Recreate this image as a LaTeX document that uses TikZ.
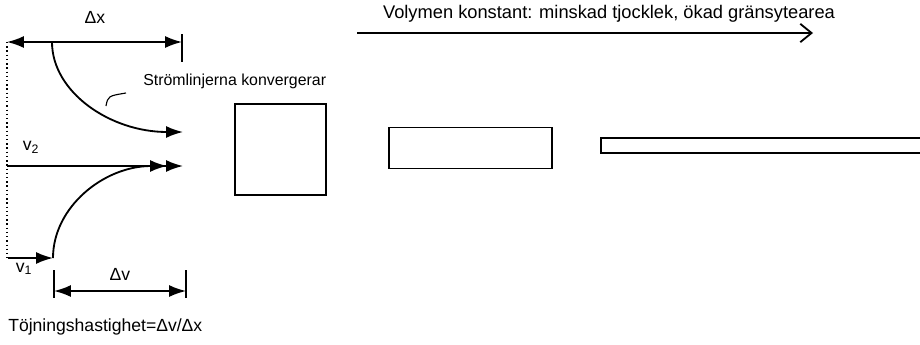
\documentclass[tikz,border=0pt]{standalone}
\usepackage{fontspec}
\setmainfont{Liberation Sans}
\usetikzlibrary{arrows.meta}

\begin{document}
\begin{tikzpicture}[x=0.025cm,y=-0.025cm,
  every node/.style={font=\fontsize{12.5}{15}\selectfont,inner sep=0pt},
  arr/.style={line width=1.3pt,-{Latex[length=12pt,width=8.5pt]}},
  dimarr/.style={line width=1.2pt,{Latex[length=12pt,width=8.5pt]}-{Latex[length=12pt,width=8.5pt]}},
  dimtick/.style={line width=1.2pt},
  blk/.style={draw,line width=1.2pt,inner sep=0pt}]
  \useasboundingbox (0,0) rectangle (920,344);
  % labels
  \node (dx) at (95,17) {Δx};
  \node[anchor=west,font=\fontsize{11.3}{14}\selectfont] (conv) at (143,81) {Strömlinjerna konvergerar};
  \node (v2) at (31,147) {v\textsubscript{2}};
  \node (v1) at (24,269) {v\textsubscript{1}};
  \node (dv) at (120,274) {Δv};
  \node[anchor=west] (rate) at (8,327) {Töjningshastighet=Δv/Δx};
  \node[font=\fontsize{13}{15}\selectfont] (vol) at (609,14) {Volymen konstant: minskad tjocklek, ökad gränsytearea};
  % blocks
  \node[blk,minimum width=2.275cm,minimum height=2.275cm] (sq) at (280.5,149.5) {};
  \node[blk,minimum width=4.075cm,minimum height=1.025cm] (slab) at (470.5,148) {};
  \node[blk,minimum width=8.5cm,minimum height=0.375cm] (film) at (771,145.5) {};
  % end points
  \coordinate (dxL) at (7,42);   \coordinate (dxR) at (182,42);
  \coordinate (tkxA) at (182,34); \coordinate (tkxB) at (182,62);
  \coordinate (dotB) at (7,258);
  \coordinate (c1s) at (52,42);  \coordinate (c1e) at (183,132);
  \coordinate (midL) at (7,166); \coordinate (midR) at (183,166);
  \coordinate (v1L) at (8,258);  \coordinate (c2s) at (53,258);
  \coordinate (c2e) at (167,166);
  \coordinate (tkvA) at (54,270); \coordinate (tkvB) at (54,298);
  \coordinate (tkwA) at (186,270); \coordinate (tkwB) at (186,298);
  \coordinate (dvL) at (54,291); \coordinate (dvR) at (186,291);
  \coordinate (volL) at (357,33); \coordinate (volR) at (813,33);
  % dimensions
  \draw[dimarr] (dxL) -- (dxR);
  \draw[dimtick] (tkxA) -- (tkxB);
  \draw[dotted,line width=1pt] (dxL) -- (dotB);
  \draw[dimarr] (dvL) -- (dvR);
  \draw[dimtick] (tkvA) -- (tkvB);
  \draw[dimtick] (tkwA) -- (tkwB);
  % stream lines
  \draw[arr] (c1s) .. controls (52,92) and (110,132) .. (c1e);
  \draw[arr] (midL) -- (midR);
  \draw[arr] (c2s) .. controls (53,207) and (104,166) .. (c2e);
  \draw[arr] (v1L) -- (c2s);
  \draw[line width=0.8pt] (106,106) .. controls (108,96) .. (126,93);
  % direction of stretching
  \draw[line width=1.3pt,-{Straight Barb[length=8pt,width=13pt]}] (volL) -- (volR);
\end{tikzpicture}
\end{document}
